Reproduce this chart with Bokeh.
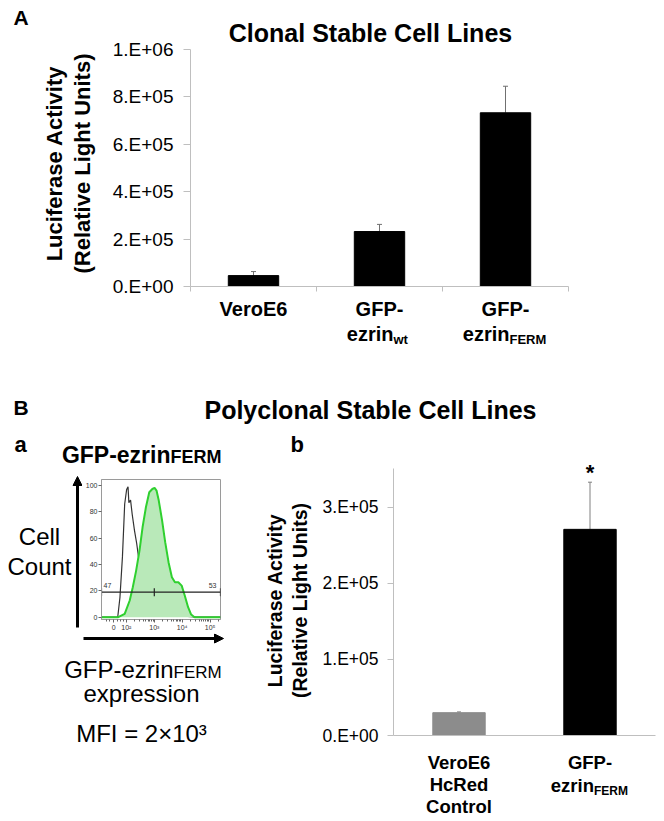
import numpy as np
from bokeh.plotting import figure
from bokeh.models import (Range1d, FixedTicker, Label, Arrow, NormalHead,
                          Whisker, TeeHead, ColumnDataSource)
from bokeh.layouts import column, row
from bokeh.embed import file_html
from bokeh.resources import INLINE

FONT = "Liberation Sans"

# ---------------- data: panel A (clonal) ----------------
a_categories = ["VeroE6", "GFP-ezrin wt", "GFP-ezrin FERM"]
a_values = [4.6e4, 2.32e5, 7.33e5]
a_errors = [1.7e4, 3.0e4, 1.12e5]
a_tick_values = [0, 2e5, 4e5, 6e5, 8e5, 1e6]
a_tick_labels = ["0.E+00", "2.E+05", "4.E+05", "6.E+05", "8.E+05", "1.E+06"]
a_axis_max = 1e6

# ---------------- data: panel B b (polyclonal) ----------------
b_categories = ["VeroE6 HcRed Control", "GFP-ezrin FERM"]
b_values = [3.0e4, 2.71e5]
b_errors = [1.0e3, 6.2e4]
b_colors = ["#8c8c8c", "#000000"]
b_tick_values = [0, 1e5, 2e5, 3e5]
b_tick_labels = ["0.E+00", "1.E+05", "2.E+05", "3.E+05"]
b_axis_max = 3.51e5

# ---------------- data: panel B a (flow histogram) ----------------
# x in decades of fluorescence (log10 scale position), y in % of max
flow_ctrl_x = [1.11, 1.69, 1.77, 1.86, 1.94, 2.01, 2.06, 2.09, 2.15, 2.21, 2.29,
               2.37, 2.44, 2.60, 2.80, 3.00, 3.50, 4.00, 4.50, 5.37]
flow_ctrl_y = [0, 0, 15, 46, 86, 97, 99, 87, 89, 78, 66,
               56, 45, 25, 10, 4, 2, 1, 0, 0]
flow_gfp_x = [1.11, 1.71, 1.94, 2.12, 2.23, 2.35, 2.47, 2.58, 2.70, 2.82, 2.93,
              3.01, 3.08, 3.16, 3.28, 3.39, 3.51, 3.63, 3.74, 3.86, 3.98, 4.09,
              4.21, 4.32, 4.44, 5.37]
flow_gfp_y = [0, 0, 2.5, 12.7, 22.8, 35.4, 50.6, 68.3, 83.5, 94.9, 97.4,
              98.2, 96.2, 88.6, 73.4, 57.0, 41.8, 30.4, 26.6, 26.6, 24.0, 16.5,
              7.6, 2.0, 0, 0]
flow_y_ticks = [0, 20, 40, 60, 80, 100]
flow_x_ticks = [1.55, 2, 3, 4, 5]
flow_x_tick_labels = ["0", "10²", "10³", "10⁴", "10⁵"]
gate_level = 19
gate_split = 3.0
gate_left_pct = "47"
gate_right_pct = "53"


def plot_fig(w, h, xr, yr, ml, mr, mt, mb, **kw):
    p = figure(width=w, height=h, x_range=xr, y_range=yr, title=None,
               output_backend="svg", toolbar_location=None,
               min_border_left=ml, min_border_right=mr,
               min_border_top=mt, min_border_bottom=mb, **kw)
    p.grid.visible = False
    p.outline_line_color = None
    p.background_fill_color = "white"
    p.border_fill_color = "white"
    return p


def text_fig(w, h):
    """Frame covers the whole canvas; data units are pixels from top-left."""
    return plot_fig(w, h, Range1d(0, w), Range1d(h, 0), 0, 0, 0, 0,
                    x_axis_type=None, y_axis_type=None)


def lab(p, text, x, y, size, bold=False, align="left", baseline="alphabetic",
        angle=0.0, x_offset=0, color="black"):
    # (x, y) is the wanted baseline point in a top-down pixel frame;
    # compensate the renderer's own baseline offset
    if baseline == "alphabetic" and angle == 0.0:
        y = y - 0.36 * size
    if baseline == "middle" and angle != 0.0:
        x = x - 0.14 * size
    p.add_layout(Label(text=text, x=x, y=y, x_offset=x_offset, angle=angle,
                       text_font=FONT, text_font_size=f"{size}px",
                       text_font_style="bold" if bold else "normal",
                       text_align=align, text_baseline=baseline,
                       text_color=color))


def arrow(p, xs, ys, xe, ye):
    p.add_layout(Arrow(end=NormalHead(size=9, fill_color="black",
                                      line_color="black"),
                       x_start=xs, y_start=ys, x_end=xe, y_end=ye,
                       line_color="black", line_width=3))


def style_axes(p, tick_size, standoff, tick_out):
    for ax in (p.xaxis[0], p.yaxis[0]):
        ax.axis_line_color = "#bfbfbf"
        ax.major_tick_line_color = "#bfbfbf"
        ax.minor_tick_line_color = None
        ax.major_tick_in = 0
        ax.major_tick_out = tick_out
        ax.major_label_text_font = FONT
        ax.major_label_text_font_size = f"{tick_size}px"
        ax.major_label_text_color = "black"
        ax.major_label_standoff = standoff


def box(f):
    return column(f)


# ======================= Panel A =======================
a_left = text_fig(105, 297)
lab(a_left, "A", 13, 25, 21, bold=True)
lab(a_left, "Luciferase Activity", 57, 163, 22, bold=True, align="center",
    baseline="middle", angle=np.pi / 2)
lab(a_left, "(Relative Light Units)", 85, 163, 22, bold=True, align="center",
    baseline="middle", angle=np.pi / 2)

# frame runs from the canvas top (286 px) while the axis covers 237 px
pa = plot_fig(559, 297, Range1d(0, len(a_values)),
              Range1d(0, a_axis_max * 286 / 237), 85, 96, 0, 11)
a_x = np.arange(len(a_values)) + 0.5
a_src = ColumnDataSource(dict(x=a_x, top=a_values,
                              upper=np.array(a_values) + np.array(a_errors)))
pa.vbar(x="x", top="top", bottom=0, width=0.4, source=a_src,
        fill_color="black", line_color="black")
pa.add_layout(Whisker(base="x", upper="upper", lower="top", source=a_src,
                      dimension="height", line_color="#707070", line_width=1,
                      upper_head=TeeHead(size=5, line_color="#707070"),
                      lower_head=None))
style_axes(pa, 19, 10, 7)
pa.yaxis[0].ticker = FixedTicker(ticks=a_tick_values)
pa.yaxis[0].major_label_overrides = dict(zip(a_tick_values, a_tick_labels))
pa.yaxis[0].bounds = (0, a_axis_max)
pa.xaxis[0].ticker = FixedTicker(ticks=list(range(len(a_values) + 1)))
pa.xaxis[0].major_label_overrides = {i: "" for i in range(len(a_values) + 1)}
pa.xaxis[0].major_label_text_font_size = "0px"
pa.xaxis[0].major_label_standoff = 0
pa.xaxis[0].major_tick_out = 5
pa.add_layout(Label(text="Clonal Stable Cell Lines", x=len(a_values) / 2,
                    y=a_axis_max, x_offset=-9, y_offset=3, text_font=FONT,
                    text_font_size="25px", text_font_style="bold",
                    text_align="center", text_color="black"))

a_cat = plot_fig(664, 75, pa.x_range, Range1d(75, 0), 190, 96, 0, 0,
                 x_axis_type=None, y_axis_type=None)
lab(a_cat, "VeroE6", a_x[0], 19, 20, bold=True, align="center")
for i, sub, off in [(1, "wt", 14), (2, "FERM", 4)]:
    lab(a_cat, "GFP-", a_x[i], 19, 20, bold=True, align="center")
    lab(a_cat, "ezrin", a_x[i], 44, 20, bold=True, align="right", x_offset=off)
    lab(a_cat, sub, a_x[i], 47, 13, bold=True, align="left", x_offset=off)

block_a = column(row(box(a_left), box(pa)), box(a_cat))

# ======================= Panel B heading =======================
b_head = text_fig(664, 53)
lab(b_head, "B", 13, 43, 21, bold=True)
lab(b_head, "Polyclonal Stable Cell Lines", 370, 46, 25, bold=True,
    align="center")

# ======================= Panel B a (flow) =======================
ba_top = text_fig(250, 45)
lab(ba_top, "a", 14, 27, 22, bold=True)
lab(ba_top, "GFP-ezrin", 170, 38, 23, bold=True, align="right")
lab(ba_top, "FERM", 170, 38, 18, bold=True, align="left")

ba_left = text_fig(82, 163)
lab(ba_left, "Cell", 39, 75, 24, align="center")
lab(ba_left, "Count", 39, 105, 24, align="center")
arrow(ba_left, 77, 157, 77, 6)

fx = Range1d(1.11, 5.37)
fy = Range1d(-1.75, 104.6)
pf = plot_fig(168, 163, fx, fy, 16, 30, 9, 14)
pf.outline_line_color = "#9a9a9a"
pf.line(flow_ctrl_x, flow_ctrl_y, line_color="#333333", line_width=1.2)
pf.varea(x=flow_gfp_x, y1=np.zeros(len(flow_gfp_x)), y2=flow_gfp_y,
         fill_color="#b9e9b9")
pf.line(flow_gfp_x, flow_gfp_y, line_color="#2fd02f", line_width=2)
pf.segment(x0=[fx.start], y0=[gate_level], x1=[fx.end], y1=[gate_level],
           line_color="#222222", line_width=1.3)
pf.segment(x0=[fx.start, gate_split, fx.end], y0=[gate_level - 3] * 3,
           x1=[fx.start, gate_split, fx.end], y1=[gate_level + 3] * 3,
           line_color="#222222", line_width=1.2)
pf.add_layout(Label(text=gate_left_pct, x=fx.start, y=gate_level, x_offset=2,
                    y_offset=4, text_font=FONT, text_font_size="7px",
                    text_color="#333333"))
pf.add_layout(Label(text=gate_right_pct, x=fx.end, y=gate_level, x_offset=-4,
                    y_offset=4, text_font=FONT, text_font_size="7px",
                    text_color="#333333", text_align="right"))
for ax in (pf.xaxis[0], pf.yaxis[0]):
    ax.axis_line_color = "#9a9a9a"
    ax.major_tick_line_color = "#666666"
    ax.minor_tick_line_color = "#666666"
    ax.major_tick_in = 0
    ax.major_tick_out = 3
    ax.minor_tick_in = 0
    ax.minor_tick_out = 2
    ax.major_label_text_font = FONT
    ax.major_label_text_font_size = "7px"
    ax.major_label_text_color = "#333333"
    ax.major_label_standoff = 1
minor = [d + np.log10(k) for d in (2, 3, 4) for k in range(2, 10)] + \
        [5 + np.log10(2)] + [1.3, 1.4, 1.7, 1.8, 1.9]
pf.xaxis[0].ticker = FixedTicker(ticks=flow_x_ticks, minor_ticks=minor)
pf.xaxis[0].major_label_overrides = dict(zip(flow_x_ticks, flow_x_tick_labels))
pf.yaxis[0].ticker = FixedTicker(ticks=flow_y_ticks)
pf.yaxis[0].minor_tick_line_color = None

ba_bot = text_fig(250, 188)
arrow(ba_bot, 83, 5, 223, 5)
lab(ba_bot, "GFP-ezrin", 173, 45, 24, align="right")
lab(ba_bot, "FERM", 173, 45, 17, align="left")
lab(ba_bot, "expression", 141, 69, 24, align="center")
lab(ba_bot, "MFI = 2×10³", 141, 109, 24, align="center")

block_ba = column(box(ba_top), row(box(ba_left), box(pf)), box(ba_bot))

# ======================= Panel B b (bars) =======================
bb_left = text_fig(65, 320)
lab(bb_left, "b", 40, 27, 22, bold=True)
lab(bb_left, "Luciferase Activity", 27, 175, 19.5, bold=True, align="center",
    baseline="middle", angle=np.pi / 2)
lab(bb_left, "(Relative Light Units)", 52, 175, 19.5, bold=True,
    align="center", baseline="middle", angle=np.pi / 2)

# frame runs from the canvas top (310 px) while the axis covers 267 px
pb = plot_fig(349, 320, Range1d(0, len(b_values)),
              Range1d(0, b_axis_max * 310 / 267), 78, 9, 0, 10)
b_x = np.arange(len(b_values)) + 0.5
b_src = ColumnDataSource(dict(x=b_x, top=b_values, color=b_colors,
                              upper=np.array(b_values) + np.array(b_errors)))
pb.vbar(x="x", top="top", bottom=0, width=0.4, source=b_src,
        fill_color="color", line_color="color")
pb.add_layout(Whisker(base="x", upper="upper", lower="top", source=b_src,
                      dimension="height", line_color="#808080", line_width=1,
                      upper_head=TeeHead(size=4, line_color="#808080"),
                      lower_head=None))
style_axes(pb, 17.5, 9, 6)
pb.yaxis[0].ticker = FixedTicker(ticks=b_tick_values)
pb.yaxis[0].major_label_overrides = dict(zip(b_tick_values, b_tick_labels))
pb.yaxis[0].bounds = (0, b_axis_max)
pb.xaxis[0].ticker = FixedTicker(ticks=[])
pb.xaxis[0].major_tick_out = 0
pb.xaxis[0].major_label_text_font_size = "0px"
pb.xaxis[0].major_label_standoff = 0
pb.add_layout(Label(text="*", x=b_x[1], y=b_values[1] + b_errors[1],
                    y_offset=-3, text_font=FONT, text_font_size="22px",
                    text_font_style="bold", text_align="center",
                    text_color="black"))

bb_cat = plot_fig(414, 76, pb.x_range, Range1d(76, 0), 143, 9, 0, 0,
                  x_axis_type=None, y_axis_type=None)
for j, line in enumerate(["VeroE6", "HcRed", "Control"]):
    lab(bb_cat, line, b_x[0], 24 + 22 * j, 18.5, bold=True, align="center")
lab(bb_cat, "GFP-", b_x[1], 24, 18.5, bold=True, align="center")
lab(bb_cat, "ezrin", b_x[1], 47, 18.5, bold=True, align="right", x_offset=4)
lab(bb_cat, "FERM", b_x[1], 50, 12, bold=True, align="left", x_offset=4)

block_bb = column(row(box(bb_left), box(pb)), box(bb_cat))

layout = column(block_a, box(b_head), row(block_ba, block_bb))
open("out.html", "w").write(file_html(layout, INLINE))
